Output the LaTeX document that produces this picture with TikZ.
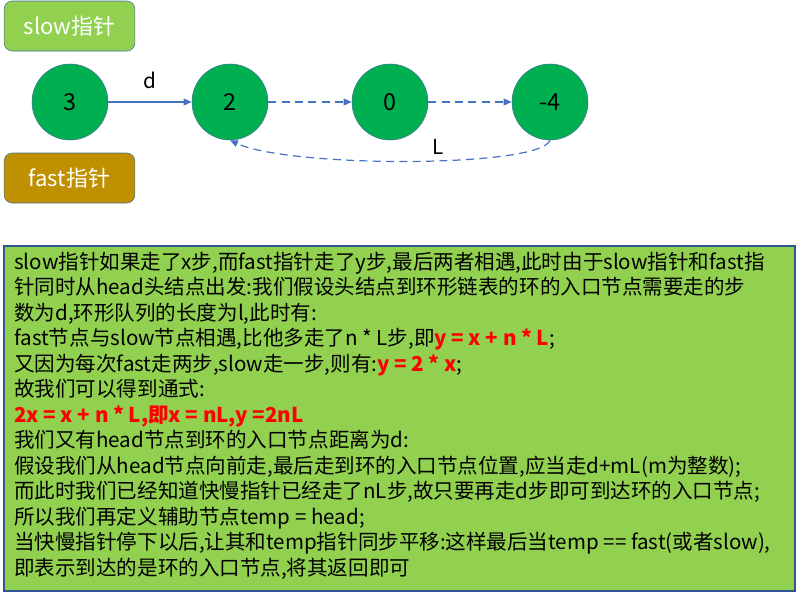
\documentclass[tikz,border=0pt]{standalone}
\usepackage{fontspec}
\setmainfont{Noto Sans CJK SC}
\usetikzlibrary{arrows.meta}
\definecolor{ptrgreen}{HTML}{92D050}
\definecolor{ptrgold}{HTML}{BF9000}
\definecolor{nodegreen}{HTML}{00B050}
\definecolor{edgeblue}{HTML}{4472C4}
\definecolor{rimblue}{HTML}{41719C}
\definecolor{boxblue}{HTML}{2F5597}
\begin{document}
\begin{tikzpicture}[x=0.75pt,y=0.75pt,
  list node/.style={circle,draw=rimblue,fill=nodegreen,font=\fontsize{17.5}{20}\selectfont,minimum size=57pt,inner sep=0pt},
  ptr box/.style={rectangle,rounded corners=6pt,draw=rimblue,text=white,font=\fontsize{16.5}{19}\selectfont,minimum width=98pt,minimum height=37.5pt},
  link/.style={draw=edgeblue,line width=0.9pt,-{Triangle[length=6pt,width=5pt]}},
  dash link/.style={link,dash pattern=on 6pt off 4pt}]
  \useasboundingbox (0,0) rectangle (796,-596);

  \node[ptr box,fill=ptrgreen] (slow) at (69.5,-26) {slow指针};
  \node[ptr box,fill=ptrgold] (fast) at (69.5,-178) {fast指针};

  \node[list node] (n3) at (70,-102) {3};
  \node[list node] (n2) at (230,-102) {2};
  \node[list node] (n0) at (390,-102) {0};
  \node[list node] (n4) at (550,-102) {-4};

  \path[every node/.style={font=\fontsize{15.5}{18}\selectfont}]
   (n3) edge[link] node[above=6pt]{d} (n2)
   (n2) edge[dash link] (n0)
   (n0) edge[dash link] (n4);
  \draw[dash link] (n4.south) .. controls (540,-168) and (290,-168) ..
    node[pos=0.43,above=1pt,font=\fontsize{15.5}{18}\selectfont]{L} (n2.south);

  % explanation box
  \draw[boxblue,fill=ptrgreen,line width=1.2pt] (4,-246) rectangle (795,-591);
  \node[anchor=north west,inner sep=0pt,align=left,
        font=\fontsize{15.4}{19.1}\selectfont] (note) at (14,-252) {%
slow指针如果走了x步,而fast指针走了y步,最后两者相遇,此时由于slow指针和fast指\\
针同时从head头结点出发:我们假设头结点到环形链表的环的入口节点需要走的步\\
数为d,环形队列的长度为l,此时有:\\
fast节点与slow节点相遇,比他多走了n * L步,即\textcolor{red}{\bfseries y = x + n * L};\\
又因为每次fast走两步,slow走一步,则有:\textcolor{red}{\bfseries y = 2 * x};\\
故我们可以得到通式:\\
\textcolor{red}{\bfseries 2x = x + n * L,即x = nL,y =2nL}\\
我们又有head节点到环的入口节点距离为d:\\
假设我们从head节点向前走,最后走到环的入口节点位置,应当走d+mL(m为整数);\\
而此时我们已经知道快慢指针已经走了nL步,故只要再走d步即可到达环的入口节点;\\
所以我们再定义辅助节点temp = head;\\
当快慢指针停下以后,让其和temp指针同步平移:这样最后当temp == fast(或者slow),\\
即表示到达的是环的入口节点,将其返回即可};
\end{tikzpicture}
\end{document}
